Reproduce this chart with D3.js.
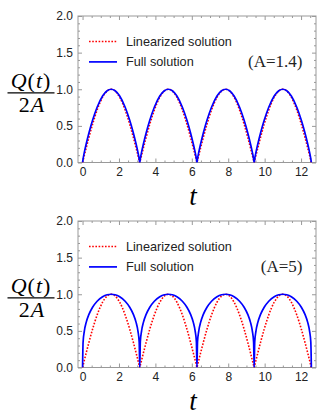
<!DOCTYPE html>
<html>
<head>
<meta charset="utf-8">
<script src="https://cdn.jsdelivr.net/npm/d3@7"></script>
<style>
  html,body{margin:0;padding:0;background:#fff;}
  svg{display:block;}
  .tick text{font-family:"Liberation Sans",Arial,sans-serif;font-size:12px;fill:#222;}
  .tick line{stroke:#999;}
</style>
</head>
<body>
<svg id="chart" width="333" height="419"></svg>
<script>
// time grid shared by every curve (4 arches, 0 .. 4pi)
const tValues=[0,0.03,0.1,0.2,0.35,0.55,0.8,1.1,1.35,1.571,1.79,2.04,2.34,2.59,2.79,2.94,3.04,3.11,
  3.142,3.172,3.242,3.342,3.492,3.692,3.942,4.242,4.492,4.712,4.932,5.182,5.482,5.732,5.932,6.082,6.182,6.252,
  6.283,6.313,6.383,6.483,6.633,6.833,7.083,7.383,7.633,7.854,8.073,8.323,8.623,8.873,9.073,9.223,9.323,9.393,
  9.425,9.455,9.525,9.625,9.775,9.975,10.225,10.525,10.775,10.996,11.215,11.465,11.765,12.015,12.215,12.365,12.465,12.535,
  12.566];

// linearized solution (same in both panels)
const linearized=[0,0.030,0.100,0.199,0.343,0.523,0.717,0.891,0.976,1.000,0.976,0.891,0.717,0.523,0.343,0.199,0.100,0.030,
  0,0.030,0.100,0.199,0.343,0.523,0.717,0.891,0.976,1.000,0.976,0.891,0.717,0.523,0.343,0.199,0.100,0.030,
  0,0.030,0.100,0.199,0.343,0.523,0.717,0.891,0.976,1.000,0.976,0.891,0.717,0.523,0.343,0.199,0.100,0.030,
  0,0.030,0.100,0.199,0.343,0.523,0.717,0.891,0.976,1.000,0.976,0.891,0.717,0.523,0.343,0.199,0.100,0.030,
  0];

// full solution, A=1.4
const fullA14=[0,0.051,0.141,0.253,0.403,0.576,0.754,0.907,0.980,1.000,0.980,0.907,0.754,0.576,0.403,0.253,0.141,0.051,
  0,0.051,0.141,0.253,0.403,0.576,0.754,0.907,0.980,1.000,0.980,0.907,0.754,0.576,0.403,0.253,0.141,0.051,
  0,0.051,0.141,0.253,0.403,0.576,0.754,0.907,0.980,1.000,0.980,0.907,0.754,0.576,0.403,0.253,0.141,0.051,
  0,0.051,0.141,0.253,0.403,0.576,0.754,0.907,0.980,1.000,0.980,0.907,0.754,0.576,0.403,0.253,0.141,0.051,
  0];

// full solution, A=5
const fullA5=[0,0.349,0.501,0.616,0.725,0.823,0.905,0.966,0.993,1.000,0.993,0.966,0.905,0.823,0.725,0.616,0.501,0.349,
  0,0.349,0.501,0.616,0.725,0.823,0.905,0.966,0.993,1.000,0.993,0.966,0.905,0.823,0.725,0.616,0.501,0.349,
  0,0.349,0.501,0.616,0.725,0.823,0.905,0.966,0.993,1.000,0.993,0.966,0.905,0.823,0.725,0.616,0.501,0.349,
  0,0.349,0.501,0.616,0.725,0.823,0.905,0.966,0.993,1.000,0.993,0.966,0.905,0.823,0.725,0.616,0.501,0.349,
  0];

const xTicks=[0,2,4,6,8,10,12];
const yTicks=[0,0.5,1,1.5,2];
const legendLabels=["Linearized solution","Full solution"];
const panelLabels=["(A=1.4)","(A=5)"];
const fullSeries=[fullA14,fullA5];

const svg=d3.select("#chart");
const left=78,w=238,h=146.5;
const panelTops=[16,221];

const x=d3.scaleLinear().domain([-0.25,12.82]).range([0,w]);
const y=d3.scaleLinear().domain([0,2]).range([h,0]);

const xMinor=d3.range(0,12.8,0.5).filter(v=>v%2!==0);
const yMinor=d3.range(0,2.001,0.1).map(v=>+v.toFixed(1)).filter(v=>(v*10)%5!==0);

const line=d3.line().x(d=>x(d[0])).y(d=>y(d[1])).curve(d3.curveMonotoneX);

panelTops.forEach((top,i)=>{
  const g=svg.append("g").attr("transform",`translate(${left},${top})`);

  // ticks on all four sides, pointing inward
  const axes=[
    [d3.axisBottom(x).tickValues(xTicks).tickFormat(d3.format("d")),`translate(0,${h})`,4],
    [d3.axisBottom(x).tickValues(xMinor).tickFormat(""),`translate(0,${h})`,2],
    [d3.axisTop(x).tickValues(xTicks).tickFormat(""),null,4],
    [d3.axisTop(x).tickValues(xMinor).tickFormat(""),null,2],
    [d3.axisLeft(y).tickValues(yTicks).tickFormat(d3.format(".1f")),null,4],
    [d3.axisLeft(y).tickValues(yMinor).tickFormat(""),null,2],
    [d3.axisRight(y).tickValues(yTicks).tickFormat(""),`translate(${w},0)`,4],
    [d3.axisRight(y).tickValues(yMinor).tickFormat(""),`translate(${w},0)`,2]
  ];
  axes.forEach(([ax,tr,len])=>{
    const a=g.append("g").call(ax.tickSize(-len).tickPadding(len===4?5:0));
    if(tr) a.attr("transform",tr);
    a.select(".domain").remove();
  });
  g.selectAll(".tick text").attr("fill","#222");

  g.append("rect").attr("width",w).attr("height",h)
    .attr("fill","none").attr("stroke","#999").attr("stroke-width",1);

  const clip="clip"+i;
  g.append("clipPath").attr("id",clip).append("rect").attr("width",w).attr("height",h);

  g.append("path").datum(tValues.map((t,k)=>[t,linearized[k]]))
    .attr("clip-path",`url(#${clip})`)
    .attr("d",line).attr("fill","none")
    .attr("stroke","#ff0000").attr("stroke-width",1.6).attr("stroke-dasharray","1.6,1.6");

  g.append("path").datum(tValues.map((t,k)=>[t,fullSeries[i][k]]))
    .attr("clip-path",`url(#${clip})`)
    .attr("d",line).attr("fill","none")
    .attr("stroke","#0000ff").attr("stroke-width",1.7);

  // legend
  const lg=g.append("g").attr("transform","translate(11,25.5)");
  lg.append("line").attr("x1",0).attr("x2",28).attr("y1",0).attr("y2",0)
    .attr("stroke","#ff0000").attr("stroke-width",1.6).attr("stroke-dasharray","1.6,1.6");
  lg.append("line").attr("x1",0).attr("x2",28).attr("y1",20.4).attr("y2",20.4)
    .attr("stroke","#0000ff").attr("stroke-width",1.7);
  legendLabels.forEach((s,k)=>{
    lg.append("text").attr("x",37).attr("y",k*20.4).attr("dy","0.36em")
      .attr("font-family","Liberation Sans, Arial, sans-serif").attr("font-size",12.7)
      .attr("fill","#222").text(s);
  });

  g.append("text").attr("x",224.5).attr("y",51)
    .attr("text-anchor","end")
    .attr("font-family","Liberation Serif, Times New Roman, serif").attr("font-size",17)
    .attr("fill","#222").text(panelLabels[i]);

  // axis titles
  g.append("text").attr("x",115).attr("y",h+42)
    .attr("text-anchor","middle")
    .attr("font-family","Liberation Serif, Times New Roman, serif").attr("font-size",27)
    .attr("font-style","italic").text("t");

  const yl=svg.append("g").attr("transform",`translate(0,${top})`)
    .attr("font-family","Liberation Serif, Times New Roman, serif").attr("font-size",22);
  const num=yl.append("text").attr("x",31).attr("y",71.5).attr("text-anchor","middle")
    .attr("letter-spacing",1);
  num.append("tspan").attr("font-style","italic").text("Q");
  num.append("tspan").text("(");
  num.append("tspan").attr("font-style","italic").text("t");
  num.append("tspan").text(")");
  yl.append("line").attr("x1",7.5).attr("x2",54.5).attr("y1",76.8).attr("y2",76.8)
    .attr("stroke","#000").attr("stroke-width",1.2);
  const den=yl.append("text").attr("x",32).attr("y",96).attr("text-anchor","middle")
    .attr("letter-spacing",1);
  den.append("tspan").text("2");
  den.append("tspan").attr("font-style","italic").text("A");
});
</script>
</body>
</html>
